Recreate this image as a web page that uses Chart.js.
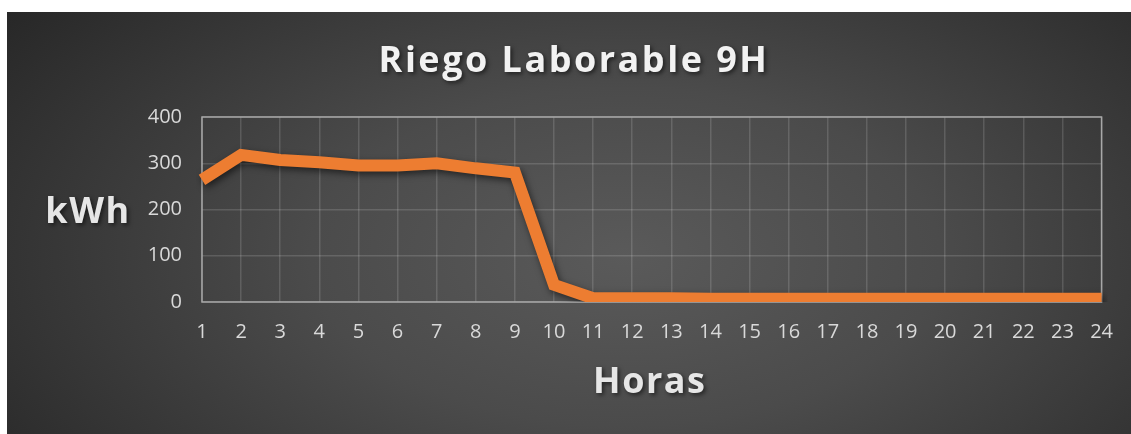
<!DOCTYPE html>
<html>
<head>
<meta charset="utf-8">
<script src="https://cdn.jsdelivr.net/npm/chart.js@4"></script>
<style>
  html, body { margin: 0; padding: 0; background: #ffffff; }
  #panel {
    position: absolute; left: 7px; top: 12px; width: 1124px; height: 422px;
    background: radial-gradient(ellipse 70% 100% at 55% 58%, #5a5a5a 0%, #4b4b4b 40%, #262626 100%);
  }
  canvas { display: block; }
</style>
</head>
<body>
<div id="panel"><canvas id="myChart" width="1124" height="422"></canvas></div>
<script>
const horas = ['1','2','3','4','5','6','7','8','9','10','11','12','13','14','15','16','17','18','19','20','21','22','23','24'];
const consumo = [264, 318, 307, 302, 295, 295, 300, 289, 280, 37, 8, 8, 8, 7, 7, 7, 7, 7, 7, 7, 7, 7, 7, 7];
const yTicks = [0, 100, 200, 300, 400];

const chartTitle = 'Riego Laborable 9H';
const yTitle = 'kWh';
const xTitle = 'Horas';

// titles drawn by hand: the y title is horizontal and letters are spaced
const textPlugin = {
    id: 'textPlugin',
    afterDraw(chart) {
        const ctx = chart.ctx;
        const area = chart.chartArea;
        ctx.save();
        ctx.font = 'bold 36px "Open Sans"';
        ctx.fillStyle = '#f2f2f2';
        ctx.textAlign = 'center';
        ctx.textBaseline = 'middle';
        ctx.shadowColor = 'rgba(0,0,0,0.55)';
        ctx.shadowBlur = 4;
        ctx.shadowOffsetX = 2;
        ctx.shadowOffsetY = 2;
        ctx.letterSpacing = '2.5px';
        ctx.fillText(chartTitle, chart.width / 2 + 5, 50);
        ctx.fillStyle = '#e6e6e6';
        ctx.letterSpacing = '1.5px';
        ctx.fillText(yTitle, 81, 201);
        ctx.fillText(xTitle, (area.left + area.right) / 2 - 2, 371);
        ctx.restore();
    }
};

const frame = {
    id: 'frame',
    beforeDatasetsDraw(chart) {
        const a = chart.chartArea;
        const ctx = chart.ctx;
        ctx.save();
        ctx.strokeStyle = '#a8a8a8';
        ctx.lineWidth = 1.5;
        ctx.strokeRect(a.left, a.top, a.right - a.left, a.bottom - a.top);
        ctx.restore();
        // shadow under the line
        ctx.save();
        ctx.shadowColor = 'rgba(0,0,0,0.55)';
        ctx.shadowBlur = 7;
        ctx.shadowOffsetX = 2;
        ctx.shadowOffsetY = 3;
    },
    afterDatasetsDraw(chart) {
        chart.ctx.restore();
    }
};

const ctx = document.getElementById('myChart').getContext('2d');
new Chart(ctx, {
    type: 'line',
    data: {
        labels: horas,
        datasets: [{
            label: 'kWh',
            data: consumo,
            borderColor: '#ED7D31',
            borderWidth: 12,
            borderJoinStyle: 'miter',
            borderCapStyle: 'butt',
            pointRadius: 0,
            tension: 0,
            fill: false
        }]
    },
    options: {
        responsive: false,
        animation: false,
        plugins: {
            legend: { display: false },
            title: { display: false },
            tooltip: { enabled: false }
        },
        layout: {
            padding: { left: 0, top: 105, right: 29, bottom: 0 }
        },
        scales: {
            x: {
                offset: false,
                grid: { color: 'rgba(255,255,255,0.14)', lineWidth: 1.5, drawTicks: false },
                border: { display: false },
                ticks: {
                    color: '#d9d9d9',
                    font: { family: 'Open Sans', size: 20 },
                    padding: 18,
                    maxRotation: 0,
                    autoSkip: false
                },
                afterFit(scale) { scale.height = 132; }
            },
            y: {
                min: 0,
                max: 400,
                afterBuildTicks(scale) { scale.ticks = yTicks.map(v => ({ value: v })); },
                grid: { color: 'rgba(255,255,255,0.14)', lineWidth: 1.5, drawTicks: false },
                border: { display: false },
                ticks: {
                    color: '#d9d9d9',
                    font: { family: 'Open Sans', size: 20 },
                    padding: 20
                },
                afterFit(scale) { scale.width = 195; }
            }
        }
    },
    plugins: [frame, textPlugin]
});
</script>
</body>
</html>
